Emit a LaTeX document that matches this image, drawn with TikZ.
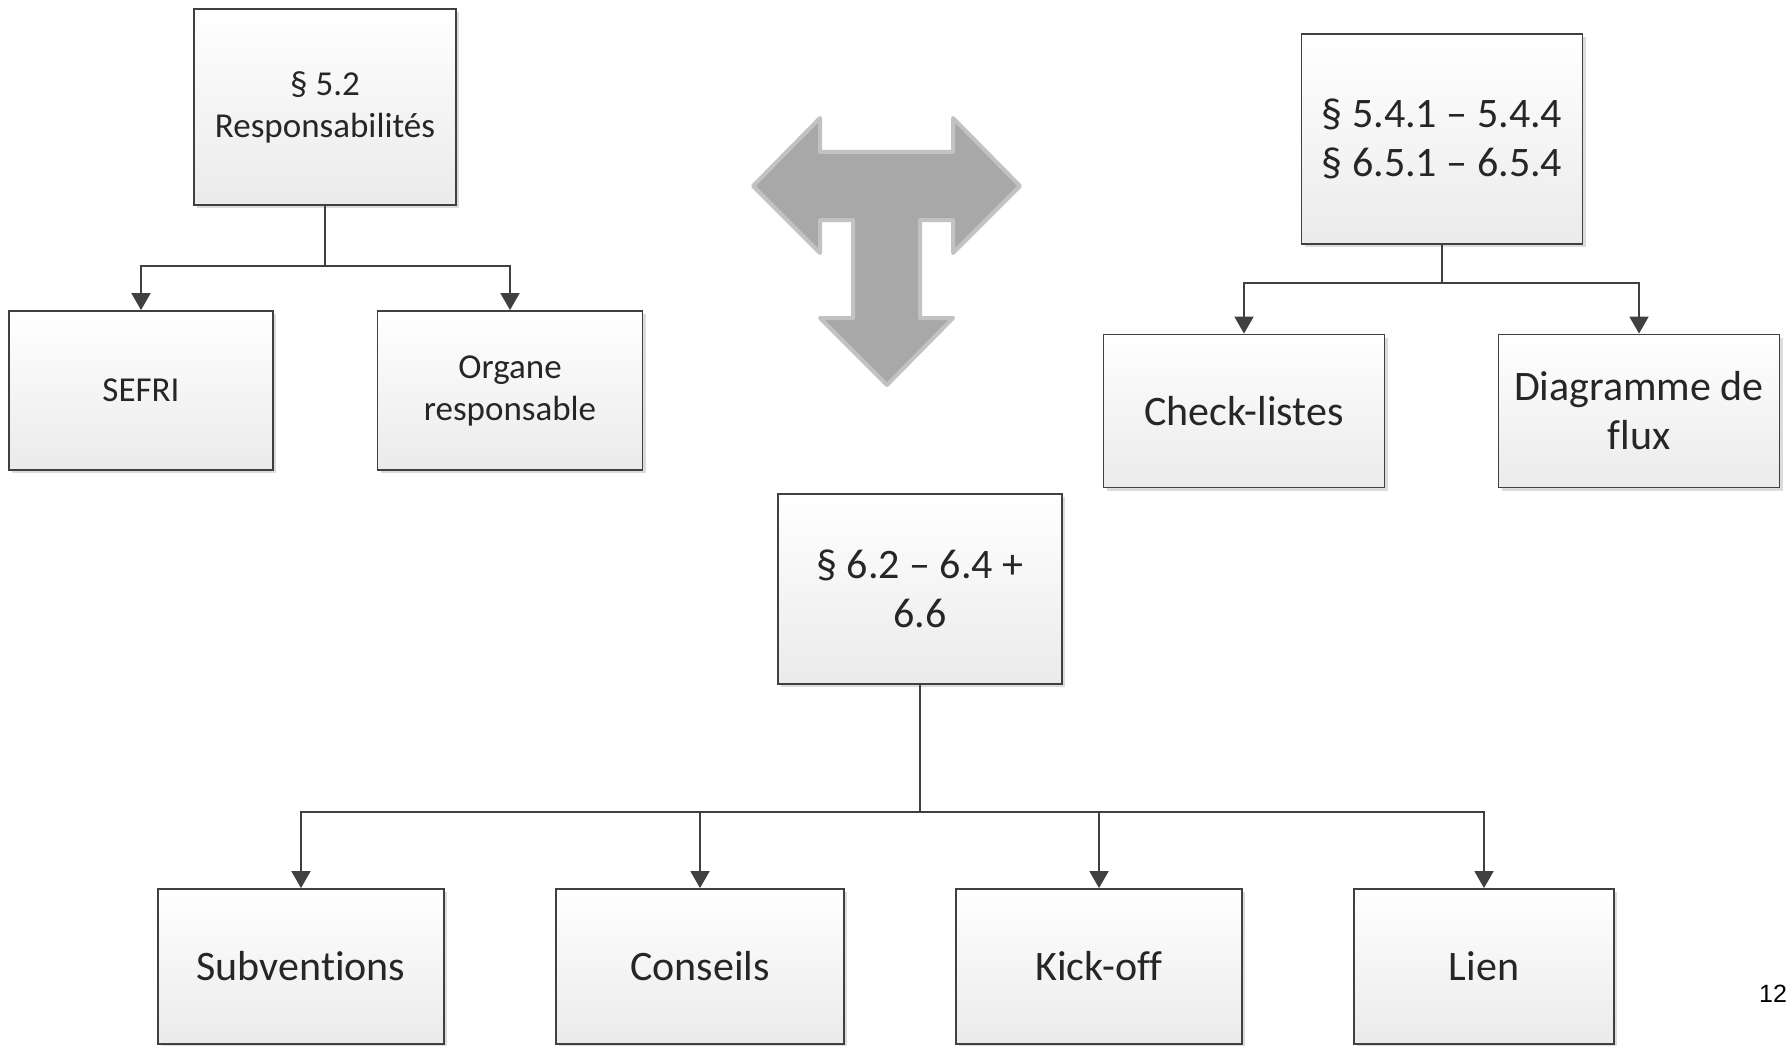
\documentclass[tikz,border=0pt]{standalone}
\usepackage{fontspec}
\setmainfont{Carlito}[Ligatures=NoCommon]
\newfontfamily\arialfont{Liberation Sans}
\usetikzlibrary{arrows.meta,shadows}
\definecolor{boxline}{HTML}{404040}
\definecolor{txt}{HTML}{262626}
\definecolor{tfill}{HTML}{A8A8A8}
\definecolor{tline}{HTML}{C2C2C2}
\begin{document}
\begin{tikzpicture}[x=1pt,y=-1pt,
  box/.style={draw=boxline,line width=1.8pt,top color=white,bottom color=black!8,
    inner sep=0pt,align=center,text=txt,
    drop shadow={shadow xshift=3pt,shadow yshift=-3pt,fill=black!30,opacity=0.45}},
  smalltxt/.style={font=\fontsize{35}{42}\selectfont},
  bigtxt/.style={font=\fontsize{42}{49}\selectfont},
  conn/.style={draw=boxline,line width=1.8pt,-{Triangle[width=19pt,length=17pt]}},
  tarrow/.style={fill=tfill,draw=tline,line width=4pt,line join=round}]
\useasboundingbox (0,0) rectangle (1788,1046);

% top-left group
\node[box,smalltxt,minimum width=262pt,minimum height=196pt] (tl) at (325,107) {§ 5.2\\Responsabilités};
\node[box,smalltxt,minimum width=264pt,minimum height=159pt] (sefri) at (141,390.5) {SEFRI};
\node[box,smalltxt,minimum width=265pt,minimum height=159pt] (organe) at (510,390.5) {Organe\\responsable};
\coordinate (tlj) at (325,266);
\draw[conn] (tl.south) -- (tlj) -| (sefri.north);
\draw[conn] (tlj) -| (organe.north);

% top-right group
\node[box,bigtxt,minimum width=281pt,minimum height=210pt] (tr) at (1442,139) {§ 5.4.1 – 5.4.4\\§ 6.5.1 – 6.5.4};
\node[box,bigtxt,minimum width=281pt,minimum height=153pt] (check) at (1244,411) {Check-listes};
\node[box,bigtxt,minimum width=281pt,minimum height=153pt] (diag) at (1639,411) {Diagramme de\\flux};
\coordinate (trj) at (1442,283);
\draw[conn] (tr.south) -- (trj) -| (check.north);
\draw[conn] (trj) -| (diag.north);

% bottom group
\node[box,bigtxt,minimum width=284pt,minimum height=190pt] (bt) at (920,589) {§ 6.2 – 6.4 +\\6.6};
\node[box,bigtxt,minimum width=286pt,minimum height=155pt] (subv) at (301,966.5) {Subventions};
\node[box,bigtxt,minimum width=288pt,minimum height=155pt] (cons) at (700,966.5) {Conseils};
\node[box,bigtxt,minimum width=286pt,minimum height=155pt] (kick) at (1099,966.5) {Kick-off};
\node[box,bigtxt,minimum width=260pt,minimum height=155pt] (lien) at (1484,966.5) {Lien};
\coordinate (bj) at (920,812);
\draw[conn] (bt.south) -- (bj) -| (subv.north);
\draw[conn] (bj) -| (cons.north);
\draw[conn] (bj) -| (kick.north);
\draw[conn] (bj) -| (lien.north);

% T-shaped three-way arrow
\draw[tarrow] (753,186) -- (820,118) -- (820,152) -- (953,152) -- (953,118)
  -- (1020,186) -- (953,253) -- (953,220) -- (920,220) -- (920,318) -- (953,318)
  -- (887,385) -- (820,318) -- (853,318) -- (853,220) -- (820,220) -- (820,253) -- cycle;

% page number
\node[font=\arialfont\fontsize{25}{30}\selectfont,text=black] (pg) at (1773,994) {12};
\end{tikzpicture}
\end{document}
